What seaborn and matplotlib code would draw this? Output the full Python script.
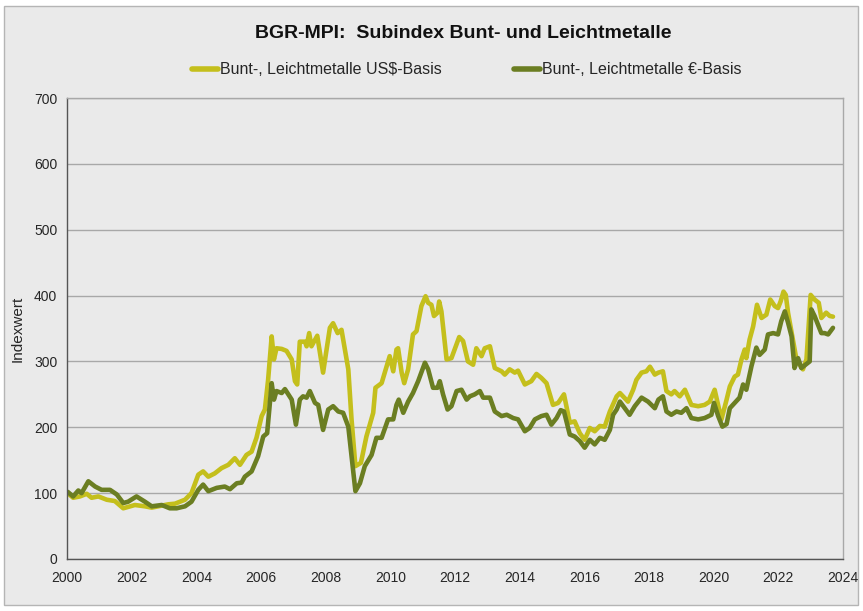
import matplotlib
matplotlib.use("Agg")
import matplotlib.pyplot as plt
import matplotlib.patches as mpatches
from matplotlib.lines import Line2D
import seaborn as sns
import pandas as pd

# ---- data ----
usd_t = [2000.02, 2000.19, 2000.40, 2000.61, 2000.76, 2000.97, 2001.23, 2001.48, 2001.74, 2002.10,
         2002.41, 2002.62, 2002.93, 2003.13, 2003.34, 2003.65, 2003.85, 2004.06, 2004.21, 2004.37,
         2004.57, 2004.78, 2004.99, 2005.19, 2005.35, 2005.55, 2005.71, 2005.86, 2006.02, 2006.12,
         2006.22, 2006.33, 2006.40, 2006.48, 2006.64, 2006.79, 2006.95, 2007.05, 2007.12, 2007.20,
         2007.36, 2007.41, 2007.49, 2007.56, 2007.74, 2007.92, 2008.13, 2008.23, 2008.37, 2008.49,
         2008.70, 2008.80, 2008.92, 2009.09, 2009.26, 2009.47, 2009.54, 2009.73, 2009.98, 2010.09,
         2010.19, 2010.24, 2010.35, 2010.43, 2010.55, 2010.70, 2010.81, 2010.96, 2011.09, 2011.17,
         2011.27, 2011.35, 2011.46, 2011.51, 2011.58, 2011.74, 2011.89, 2012.13, 2012.25, 2012.40,
         2012.56, 2012.66, 2012.82, 2012.92, 2013.08, 2013.23, 2013.44, 2013.54, 2013.69, 2013.85,
         2013.95, 2014.16, 2014.36, 2014.52, 2014.67, 2014.83, 2015.03, 2015.19, 2015.37, 2015.55,
         2015.70, 2015.86, 2016.01, 2016.17, 2016.32, 2016.48, 2016.63, 2016.79, 2017.00, 2017.10,
         2017.35, 2017.51, 2017.61, 2017.77, 2017.92, 2018.03, 2018.18, 2018.29, 2018.43, 2018.54,
         2018.69, 2018.79, 2018.95, 2019.11, 2019.31, 2019.52, 2019.72, 2019.88, 2020.03, 2020.24,
         2020.40, 2020.50, 2020.65, 2020.75, 2020.86, 2020.96, 2021.01, 2021.11, 2021.22, 2021.34,
         2021.48, 2021.63, 2021.75, 2021.89, 2021.99, 2022.07, 2022.16, 2022.23, 2022.30, 2022.45,
         2022.56, 2022.69, 2022.76, 2022.87, 2023.00, 2023.12, 2023.25, 2023.33, 2023.48, 2023.59,
         2023.69]
usd_v = [100, 93, 95, 99, 93, 95, 90, 88, 77, 82,
         80, 78, 81, 83, 84, 90, 100, 128, 133, 125,
         130, 138, 143, 153, 143, 158, 163, 184, 217, 227,
         272, 338, 303, 320, 319, 316, 303, 270, 265, 330,
         330, 323, 343, 323, 339, 283, 351, 358, 343, 348,
         288, 212, 141, 146, 186, 222, 260, 267, 308, 285,
         318, 320, 283, 267, 288, 341, 346, 384, 399, 389,
         386, 369, 374, 391, 376, 303, 305, 337, 331, 300,
         295, 320, 308, 320, 323, 290, 285, 280, 288, 283,
         286, 265, 270, 281, 275, 267, 234, 237, 250, 207,
         209, 191, 181, 199, 194, 202, 201, 224, 247, 252,
         239, 257, 272, 283, 285, 292, 280, 283, 285, 255,
         250, 255, 247, 257, 234, 232, 234, 239, 257, 212,
         242, 262, 277, 280, 303, 318, 305, 333, 353, 386,
         366, 371, 394, 384, 381, 391, 406, 401, 374, 333,
         303, 293, 288, 303, 401, 394, 389, 366, 374, 369,
         368]

eur_t = [2000.02, 2000.19, 2000.35, 2000.45, 2000.66, 2000.87, 2001.07, 2001.33, 2001.54, 2001.74,
         2001.89, 2002.15, 2002.41, 2002.62, 2002.93, 2003.18, 2003.39, 2003.65, 2003.85, 2004.06,
         2004.21, 2004.37, 2004.63, 2004.88, 2005.04, 2005.25, 2005.40, 2005.50, 2005.71, 2005.91,
         2006.07, 2006.19, 2006.33, 2006.40, 2006.48, 2006.64, 2006.74, 2006.95, 2007.08, 2007.20,
         2007.30, 2007.41, 2007.51, 2007.67, 2007.77, 2007.92, 2008.08, 2008.23, 2008.39, 2008.54,
         2008.70, 2008.80, 2008.92, 2009.06, 2009.21, 2009.42, 2009.57, 2009.73, 2009.93, 2010.09,
         2010.19, 2010.26, 2010.40, 2010.55, 2010.70, 2010.86, 2011.07, 2011.17, 2011.32, 2011.46,
         2011.53, 2011.63, 2011.77, 2011.89, 2012.05, 2012.20, 2012.36, 2012.46, 2012.61, 2012.77,
         2012.87, 2013.08, 2013.23, 2013.44, 2013.60, 2013.80, 2013.95, 2014.16, 2014.31, 2014.47,
         2014.67, 2014.83, 2014.98, 2015.14, 2015.27, 2015.37, 2015.55, 2015.70, 2015.86, 2016.01,
         2016.17, 2016.32, 2016.48, 2016.63, 2016.79, 2016.89, 2017.00, 2017.10, 2017.25, 2017.40,
         2017.56, 2017.77, 2017.97, 2018.18, 2018.29, 2018.43, 2018.54, 2018.69, 2018.85, 2019.00,
         2019.16, 2019.31, 2019.52, 2019.72, 2019.93, 2020.01, 2020.14, 2020.27, 2020.40, 2020.50,
         2020.65, 2020.80, 2020.91, 2021.01, 2021.17, 2021.32, 2021.42, 2021.58, 2021.68, 2021.84,
         2021.99, 2022.09, 2022.20, 2022.30, 2022.41, 2022.50, 2022.61, 2022.71, 2022.97, 2023.02,
         2023.12, 2023.33, 2023.43, 2023.54, 2023.69]
eur_v = [102, 95, 104, 100, 118, 110, 105, 105, 98, 85,
         87, 95, 87, 80, 82, 77, 77, 80, 87, 105,
         113, 103, 108, 110, 106, 115, 116, 125, 133, 156,
         186, 191, 267, 242, 255, 252, 258, 242, 204, 242,
         247, 245, 255, 237, 234, 196, 227, 232, 224, 222,
         201, 156, 103, 115, 141, 158, 184, 184, 212, 212,
         234, 242, 222, 239, 252, 270, 298, 288, 260, 260,
         270, 250, 227, 232, 255, 257, 242, 247, 250, 255,
         245, 245, 224, 217, 219, 214, 212, 194, 199, 212,
         217, 219, 204, 214, 226, 224, 189, 186, 179, 169,
         181, 174, 184, 181, 196, 219, 227, 239, 229, 219,
         232, 245, 239, 229, 242, 247, 224, 219, 224, 222,
         229, 214, 212, 214, 219, 237, 217, 201, 205, 229,
         237, 245, 265, 257, 293, 321, 310, 318, 341, 343,
         341, 361, 376, 359, 338, 290, 305, 290, 300, 379,
         369, 343, 343, 341, 351]

series_names = ["Bunt-, Leichtmetalle US$-Basis", "Bunt-, Leichtmetalle \u20ac-Basis"]
series_colors = ["#c4bf1c", "#6b7e22"]
x_ticks = list(range(2000, 2025, 2))
y_ticks = list(range(0, 701, 100))

df = pd.concat([
    pd.DataFrame({"Jahr": usd_t, "Indexwert": usd_v, "Serie": series_names[0]}),
    pd.DataFrame({"Jahr": eur_t, "Indexwert": eur_v, "Serie": series_names[1]}),
], ignore_index=True)

# ---- figure ----
sns.set_theme(style="white")
plt.rcParams["font.family"] = ["Liberation Sans", "DejaVu Sans"]

W, H = 863, 611
fig = plt.figure(figsize=(W / 100, H / 100), dpi=100)
bg = "#eaeaea"
fig.patch.set_facecolor("white")
frame = mpatches.Rectangle((4 / W, 6 / H), 854 / W, 599 / H, transform=fig.transFigure,
                           facecolor=bg, edgecolor="#b5b5b5", linewidth=1, zorder=-10)
fig.add_artist(frame)

ax = fig.add_axes([67 / W, 1 - 559 / H, 776 / W, 461 / H])
ax.set_zorder(1)
ax.set_facecolor(bg)

sns.lineplot(data=df, x="Jahr", y="Indexwert", hue="Serie", palette=series_colors,
             hue_order=series_names, estimator=None, linewidth=3.3, ax=ax, legend=False)

ax.set_xlim(2000, 2024)
ax.set_ylim(0, 700)
ax.set_xticks(x_ticks)
ax.set_yticks(y_ticks)
ax.tick_params(axis="x", direction="in", length=4, width=0.8, color="#808080", labelsize=10, pad=9)
ax.tick_params(axis="y", length=0, labelsize=10, pad=7)
ax.grid(axis="y", color="#a8a8a8", linewidth=1.0)
ax.set_axisbelow(True)
ax.set_xlabel("")
ax.set_ylabel("Indexwert", fontsize=11, labelpad=7)
for s in ["left", "bottom"]:
    ax.spines[s].set_color("#555555")
    ax.spines[s].set_linewidth(1.0)
for s in ["top", "right"]:
    ax.spines[s].set_color("#a8a8a8")
    ax.spines[s].set_linewidth(1.0)

fig.text(463 / W, 1 - 33 / H, "BGR-MPI:  Subindex Bunt- und Leichtmetalle", ha="center", va="center",
         fontsize=14, fontweight="bold", color="#111111")

handles = [Line2D([0], [0], color=c, linewidth=4) for c in series_colors]
fig.legend(handles, series_names, loc="center", bbox_to_anchor=(467 / W, 1 - 70 / H), ncol=2,
           frameon=False, fontsize=11.5, handlelength=1.6, handletextpad=0.15, columnspacing=4.5)

fig.savefig("out.png", dpi=100, facecolor=fig.get_facecolor())
